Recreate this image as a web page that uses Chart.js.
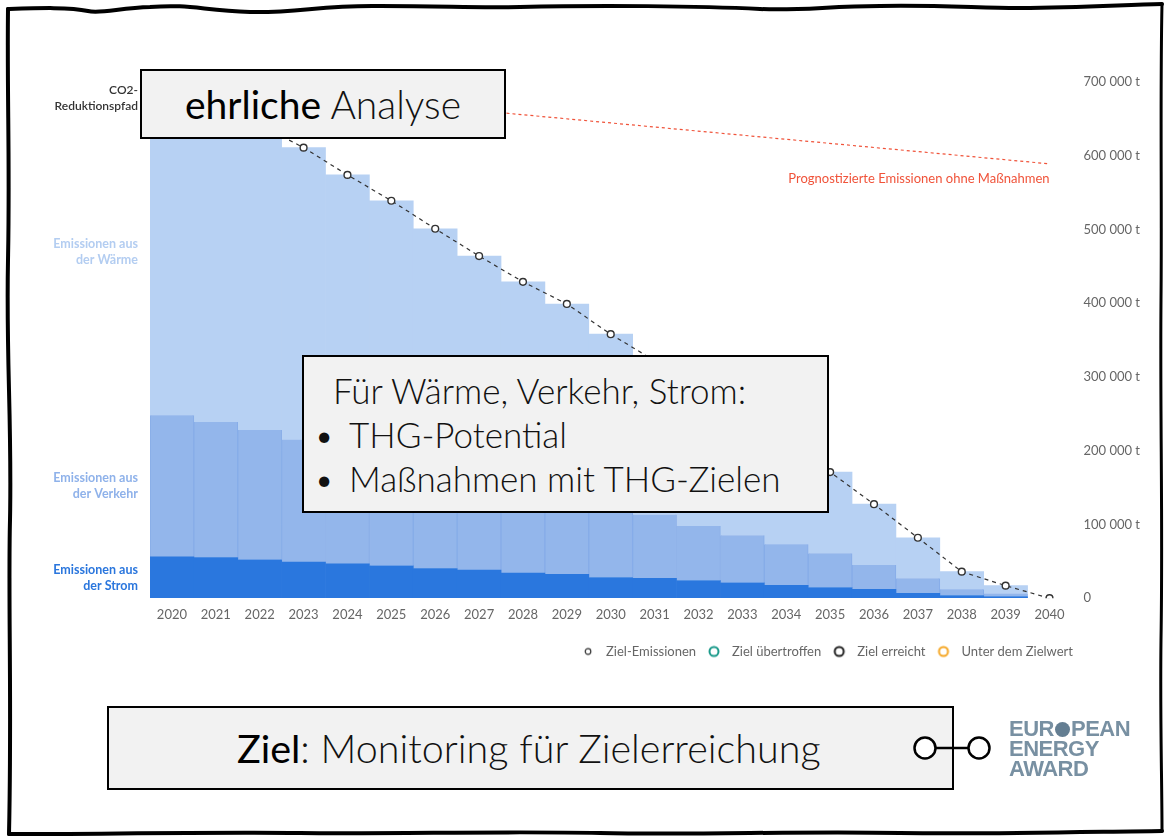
<!DOCTYPE html>
<html>
<head>
<meta charset="utf-8">
<script src="https://cdn.jsdelivr.net/npm/chart.js@4.4.1/dist/chart.umd.min.js"></script>
<style>
  html, body { margin: 0; padding: 0; background: #fff; }
  #wrap { position: relative; width: 1166px; height: 838px; overflow: hidden; background: #fff; }
  #chartBox { position: absolute; left: 0; top: 0; width: 1166px; height: 680px; }
  #deco { position: absolute; left: 0; top: 0; }
  .box { position: absolute; background: #f2f2f2; border: 2.5px solid #000; box-sizing: border-box;
         font-family: Lato, "Open Sans", sans-serif; color: #111; white-space: nowrap; }
  .b { font-weight: 400; color: #000; }
  .l { font-weight: 300; }
  #box1 { left: 140px; top: 69px; width: 366px; height: 70px; font-size: 39px; line-height: 66px; padding-left: 43px; }
  #box2 { left: 302px; top: 355px; width: 527px; height: 158px; font-size: 35px; font-weight: 300; line-height: 44px; padding-top: 11px; }
  #box2 div { padding-left: 45px; position: relative; }
  #box2 div.first { padding-left: 29px; }
  #box2 div.bul::before { content: "\2022"; position: absolute; left: 10px; }
  #box3 { left: 107px; top: 706px; width: 847px; height: 84px; font-size: 39.5px; line-height: 80px; padding-left: 128px; }
  #logo { position: absolute; left: 1009px; top: 719px; font-family: "Liberation Sans", Arial, sans-serif; font-weight: 700;
          color: #7890a2; font-size: 22px; line-height: 20px; letter-spacing: -0.5px; }
  #logo .dot { display: inline-block; width: 15px; height: 15px; border-radius: 50%; background: #647e92; vertical-align: -1px; margin: 0 1px; }
</style>
</head>
<body>
<div id="wrap">
  <div id="chartBox"><canvas id="emissions"></canvas></div>
  <svg id="deco" width="1166" height="838">
    <path d="M8 9 C40 8 70 7 88 11 C100 14 120 8 150 7 C190 4 200 10 250 12 C300 13 320 5 380 6 C450 6 470 8 520 7 C600 5 700 6 760 9 C800 11 830 6 880 6 C940 5 980 8 1020 8 C1080 8 1120 5 1162 4"
          fill="none" stroke="#000" stroke-width="4" stroke-linecap="round"/>
    <path d="M8 9 C7 100 10 160 8 260 C6 360 12 420 10 520 C8 600 12 700 9 834"
          fill="none" stroke="#000" stroke-width="4" stroke-linecap="round"/>
    <path d="M9 834 C100 834 200 832 300 833 C400 834 500 831 600 833 C700 835 800 831 900 833 C1000 834 1080 832 1162 831"
          fill="none" stroke="#000" stroke-width="4" stroke-linecap="round"/>
    <path d="M1162 4 C1160 100 1162 200 1161 300 C1160 420 1163 520 1161 640 C1160 720 1162 780 1162 831"
          fill="none" stroke="#000" stroke-width="3" stroke-linecap="round"/>
  </svg>
  <div class="box" id="box1"><span class="b">ehrliche</span><span class="l"> Analyse</span></div>
  <div class="box" id="box2">
    <div class="first">Für Wärme, Verkehr, Strom:</div>
    <div class="bul">THG-Potential</div>
    <div class="bul">Maßnahmen mit THG-Zielen</div>
  </div>
  <div class="box" id="box3"><span class="b">Ziel</span><span class="l">: Monitoring für Zielerreichung</span></div>
  <svg style="position:absolute;left:0;top:0" width="1166" height="838">
    <line x1="936" y1="748" x2="968" y2="748" stroke="#000" stroke-width="2.5"/>
    <circle cx="925" cy="748" r="10.5" fill="#fff" stroke="#000" stroke-width="2.5"/>
    <circle cx="979" cy="748" r="10.5" fill="#fff" stroke="#000" stroke-width="2.5"/>
  </svg>
  <div id="logo">EUR<span class="dot"></span>PEAN<br>ENERGY<br>AWARD</div>
</div>

<script>
// years on the x axis
const years = ['2020','2021','2022','2023','2024','2025','2026','2027','2028','2029','2030',
               '2031','2032','2033','2034','2035','2036','2037','2038','2039','2040'];

// emissions per sector, t CO2 (stacked)
const strom   = [56000, 55000, 52000, 49000, 46500, 44000, 40000, 38000, 34000, 32500, 28000,
                 27000, 24000, 21000, 17500, 14500, 12000, 6500, 3500, 2300, null];
const verkehr = [192000, 184000, 176000, 166000, 156500, 147000, 139000, 128000, 118000, 106500, 98000,
                 86500, 74000, 64500, 55500, 46500, 33000, 20500, 8500, 4200, null];
const waerme  = [442000, 431000, 414000, 396000, 371000, 348000, 322000, 298000, 277000, 260000, 232000,
                 208500, 187000, 162500, 137000, 110000, 82500, 55000, 24000, 10500, null];

// target path (Ziel-Emissionen)
const ziel = [690000, 670000, 642000, 611000, 574000, 539000, 501000, 464000, 429000, 399000, 358000,
              322000, 285000, 248000, 210000, 171000, 127500, 82000, 36000, 17000, 0];

// forecast without measures (straight line between the two ends)
const prognose = [700000, null, null, null, null, null, null, null, null, null, null,
                  null, null, null, null, null, null, null, null, null, 589000];

const legendTexts = ['Ziel-Emissionen', 'Ziel übertroffen', 'Ziel erreicht', 'Unter dem Zielwert'];
const legendColors = ['#333', '#1a9a8a', '#222', '#f5a623'];

function ring(color, r, w) {
  const c = document.createElement('canvas');
  c.width = 14; c.height = 14;
  const g = c.getContext('2d');
  g.beginPath();
  g.arc(7, 7, r, 0, Math.PI * 2);
  g.lineWidth = w;
  g.strokeStyle = color;
  g.stroke();
  return c;
}
const legendIcons = [ring(legendColors[0], 2.8, 1.2), ring(legendColors[1], 4.5, 2),
                     ring(legendColors[2], 4.5, 2), ring(legendColors[3], 4.5, 2)];

function fmt(v) {
  if (v === 0) return '0';
  return String(v).replace(/\B(?=(\d{3})+(?!\d))/g, ' ') + ' t';
}

const FONT = 'Lato, "Open Sans", sans-serif';

// side labels + forecast caption
const sideLabels = {
  id: 'sideLabels',
  afterLayout(chart) {
    // legend sits a little past the plot's right edge
    chart.legend.left += 8;
    chart.legend.right += 8;
  },
  afterDatasetsDraw(chart) {
    const ctx = chart.ctx;
    const y = chart.scales.y;
    const x = chart.scales.x;
    const left = chart.chartArea.left - 12;
    ctx.save();
    ctx.textAlign = 'right';
    ctx.textBaseline = 'middle';

    const put = (lines, color, mid) => {
      ctx.fillStyle = color;
      lines.forEach((t, i) => ctx.fillText(t, left, mid + (i - (lines.length - 1) / 2) * 16));
    };
    const s0 = strom[0], v0 = verkehr[0], w0 = waerme[0];
    ctx.font = '600 12px ' + FONT;
    put(['CO2-', 'Reduktionspfad'], '#333', y.getPixelForValue(ziel[0]) + 9);
    ctx.font = '700 12.5px ' + FONT;
    put(['Emissionen aus', 'der Wärme'], '#b3cdf1', y.getPixelForValue(s0 + v0 + w0 / 2));
    put(['Emissionen aus', 'der Verkehr'], '#8fb2ea', y.getPixelForValue(s0 + v0 / 2));
    put(['Emissionen aus', 'der Strom'], '#2a76dd', y.getPixelForValue(s0 / 2));

    const last = prognose.length - 1;
    ctx.font = '400 13px ' + FONT;
    ctx.fillStyle = '#f0533a';
    ctx.fillText('Prognostizierte Emissionen ohne Maßnahmen',
                 x.getPixelForValue(last), y.getPixelForValue(prognose[last]) + 15);
    ctx.restore();
  }
};

const ctx = document.getElementById('emissions').getContext('2d');
new Chart(ctx, {
  type: 'bar',
  data: {
    labels: years,
    datasets: [
      {
        type: 'line', label: 'Ziel-Emissionen', data: ziel, stack: 'ziel',
        borderColor: '#333', borderWidth: 1.2, borderDash: [4, 4],
        pointRadius: 3.4, pointBorderWidth: 1.4, pointBackgroundColor: '#fff', pointBorderColor: '#333',
        fill: false, tension: 0
      },
      {
        type: 'line', label: 'Prognose', data: prognose, stack: 'prognose', spanGaps: true,
        borderColor: '#f0533a', borderWidth: 1.2, borderDash: [3, 3], pointRadius: 0, fill: false
      },
      { label: 'Strom', data: strom, backgroundColor: '#2a77de', borderWidth: 0, stack: 'e' },
      { label: 'Verkehr', data: verkehr, backgroundColor: '#93b6eb', stack: 'e',
        borderColor: '#86ace8', borderWidth: {left: 1, right: 1, top: 0, bottom: 0} },
      { label: 'Wärme', data: waerme, backgroundColor: '#b7d1f3', borderWidth: 0, stack: 'e' }
    ]
  },
  options: {
    responsive: true,
    maintainAspectRatio: false,
    animation: false,
    datasets: { bar: { barPercentage: 1, categoryPercentage: 1 } },
    layout: { padding: { left: 150, right: 14, top: 82, bottom: 12 } },
    scales: {
      x: {
        stacked: true,
        grid: { display: false },
        border: { display: false },
        ticks: { color: '#666', font: { family: FONT, size: 13 }, padding: 1, maxRotation: 0, autoSkip: false },
        afterFit: (scale) => { scale.height += 4; }
      },
      y: {
        stacked: true,
        position: 'right',
        min: 0, max: 700000,
        z: 1,
        grid: { color: '#fff', lineWidth: 1, drawTicks: false },
        border: { display: false },
        ticks: { stepSize: 100000, padding: 12, color: '#666', font: { family: FONT, size: 13 }, callback: fmt }
      }
    },
    plugins: {
      tooltip: { enabled: false },
      legend: {
        position: 'bottom',
        align: 'end',
        fullSize: false,
        onClick: () => {},
        title: { display: true, text: ' ', font: { size: 1 }, padding: { top: 0, bottom: 9.5 } },
        labels: {
          usePointStyle: true,
          pointStyleWidth: 23,
          color: '#666',
          font: { family: FONT, size: 13 },
          padding: 6.5,
          generateLabels: () => legendTexts.map((t, i) => ({
            text: t, pointStyle: legendIcons[i], fillStyle: 'transparent',
            strokeStyle: 'transparent', lineWidth: 0, hidden: false, datasetIndex: i
          }))
        }
      }
    }
  },
  plugins: [sideLabels]
});
</script>
</body>
</html>
